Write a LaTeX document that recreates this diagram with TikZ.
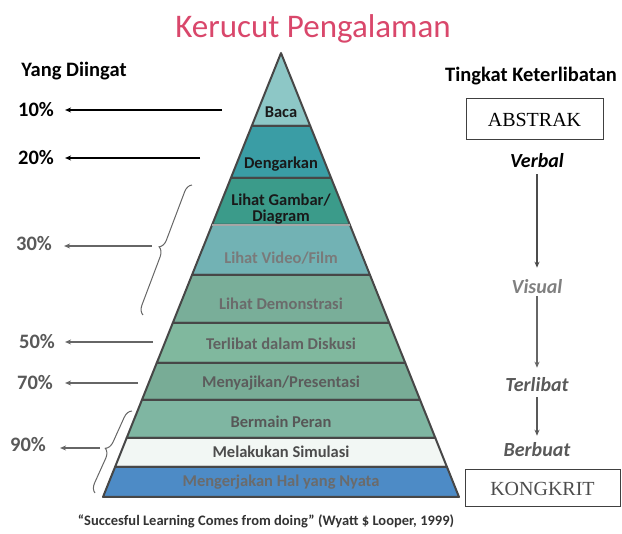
\documentclass[tikz,border=0pt]{standalone}
\usepackage{fontspec}
\setmainfont{Carlito}
\newfontfamily\romfont{Liberation Serif}
\usetikzlibrary{arrows.meta,decorations.pathreplacing}

\definecolor{titlered}{HTML}{D9476B}
\definecolor{cBaca}{HTML}{8DC7C6}
\definecolor{cDengar}{HTML}{3A9DA5}
\definecolor{cGambar}{HTML}{3B9B8A}
\definecolor{cVideo}{HTML}{72B2B4}
\definecolor{cDemo}{HTML}{79AE99}
\definecolor{cDiskusi}{HTML}{80B89E}
\definecolor{cPresen}{HTML}{78AC96}
\definecolor{cPeran}{HTML}{7FB6A2}
\definecolor{cSimul}{HTML}{F2F7F4}
\definecolor{cNyata}{HTML}{4D8BC6}

\begin{document}
\begin{tikzpicture}[x=1pt, y=-1pt,
  pct/.style={font=\fontsize{20.5}{24}\selectfont\bfseries, inner sep=2pt},
  head/.style={font=\fontsize{20.5}{24}\selectfont\bfseries, inner sep=2pt},
  level/.style={font=\fontsize{20}{24}\selectfont\bfseries\itshape, inner sep=2pt},
  layer/.style={font=\fontsize{16.5}{16}\selectfont\bfseries, align=center, inner sep=1pt},
  endbox/.style={draw=black!75, line width=1pt, font=\romfont\fontsize{20}{24}\selectfont},
  arr/.style={line width=1.6pt, -{Stealth[length=6pt, width=5pt]}}]
\useasboundingbox (0,0) rectangle (622,534);

\node[text=titlered, font=\fontsize{33}{36}\selectfont] (title) at (313,29) {Kerucut Pengalaman};

% pyramid
\foreach \ya/\yb/\col/\tc/\ty/\txt [count=\i] in {
  53/126/cBaca/black!90/112/{Baca},
  126/178/cDengar/black!90/164/{Dengarkan},
  178/225/cGambar/black!90/209/{Lihat Gambar/\\Diagram},
  225/275/cVideo/black!52/258/{Lihat Video/Film},
  275/323/cDemo/black!58/304/{Lihat Demonstrasi},
  323/363/cDiskusi/black!62/344/{Terlibat dalam Diskusi},
  363/400/cPresen/black!64/383/{Menyajikan/Presentasi},
  400/438/cPeran/black!66/422/{Bermain Peran},
  438/467/cSimul/black!70/452/{Melakukan Simulasi},
  467/497/cNyata/black!58/482/{Mengerjakan Hal yang Nyata}}
{
\filldraw[fill=\col, draw=black!72, line width=2pt, line join=round]
  ({281-0.4009*(\ya-53)},\ya) -- ({281+0.4009*(\ya-53)},\ya)
  -- ({281+0.4009*(\yb-53)},\yb) -- ({281-0.4009*(\yb-53)},\yb) -- cycle;
\node[layer, text=\tc] (L\i) at (281,\ty) {\txt};
}
\draw[black!35, line width=2pt] ({281-0.4009*(225-53)},225) -- ({281+0.4009*(225-53)},225);

% yang diingat
\node[head] (diingat) at (74,71) {Yang Diingat};
\node[pct] (p10) at (36,110) {10\%};
\node[pct] (p20) at (36,158) {20\%};
\node[pct, text=black!65] (p30) at (34,244) {30\%};
\node[pct, text=black!65] (p50) at (37,342) {50\%};
\node[pct, text=black!65] (p70) at (35,383) {70\%};
\node[pct, text=black!65] (p90) at (28,445) {90\%};

\coordinate (s10) at (222,110);
\coordinate (s20) at (200,158);
\coordinate (s30) at (152,246);
\coordinate (s50) at (153,342);
\coordinate (s70) at (138,383);
\coordinate (s90) at (100,448);

\draw[arr, shorten >=9pt] (s10) -- (p10);
\draw[arr, shorten >=9pt] (s20) -- (p20);
\draw[arr, black!60, shorten >=10pt] (s30) -- (p30.east |- s30);
\draw[arr, black!60, shorten >=8pt] (s50) -- (p50);
\draw[arr, black!60, shorten >=10pt] (s70) -- (p70);
\draw[arr, black!60, shorten >=12pt] (s90) -- (p90.east |- s90);

% braces
\draw[black!60, line width=1pt, decorate, decoration={brace, amplitude=9pt}]
  (143,315) -- (192,185);
\draw[black!60, line width=1pt, decorate, decoration={brace, amplitude=9pt}]
  (95,493) -- (132,411);

% tingkat keterlibatan
\node[head] (tingkat) at (531,76) {Tingkat Keterlibatan};
\node[endbox, minimum width=137pt, minimum height=41pt] (abstrak) at (534.5,119.5) {ABSTRAK};
\node[level] (verbal) at (537,161) {Verbal};
\node[level, text=black!50] (visual) at (537,287) {Visual};
\node[level, text=black!65] (terlibat) at (537,385) {Terlibat};
\node[level, text=black!65] (berbuat) at (537,450) {Berbuat};
\node[endbox, text=black!70, minimum width=155pt, minimum height=37pt] (kongkrit) at (542.5,488.5) {KONGKRIT};

\draw[arr, black!70, shorten <=4pt, shorten >=10pt] (verbal) -- (visual);
\draw[arr, black!60, shorten >=8pt] (visual) -- (terlibat);
\draw[arr, black!65, shorten <=3pt, shorten >=5pt] (terlibat) -- (berbuat);

\node[font=\fontsize{14.5}{16}\selectfont\bfseries, text=black!80] (quote) at (266,521)
  {“Succesful Learning Comes from doing” (Wyatt \$ Looper, 1999)};
\end{tikzpicture}
\end{document}
